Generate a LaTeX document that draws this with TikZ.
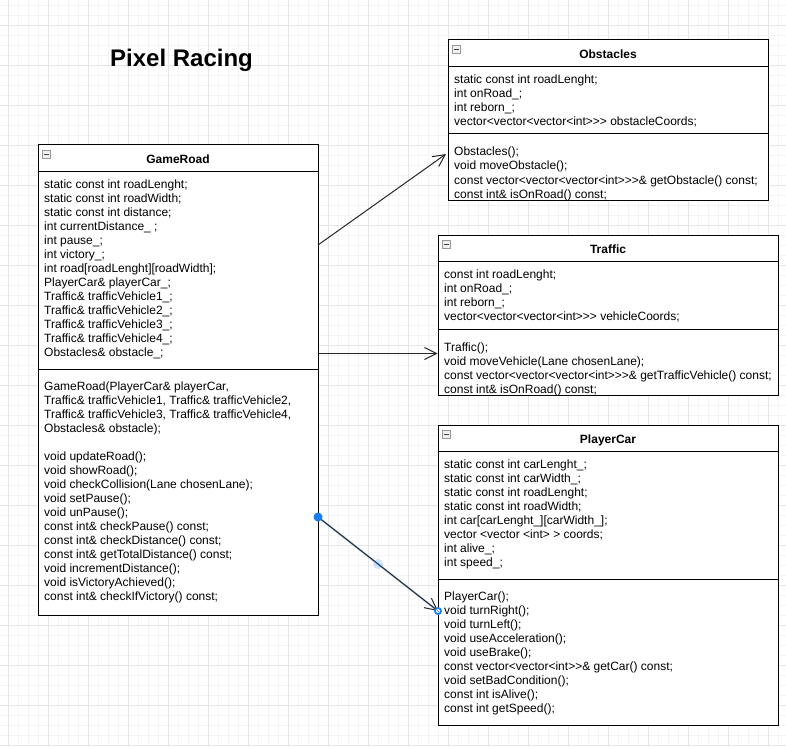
\documentclass[tikz,border=0pt]{standalone}
\usepackage{fontspec}
\setmainfont{Liberation Sans}[Ligatures=TeXOff]
\usetikzlibrary{arrows.meta,calc}
\definecolor{gridmajor}{HTML}{E6E6E6}
\definecolor{gridminor}{HTML}{F4F4F4}
\definecolor{selblue}{RGB}{25,125,240}
\tikzset{
  box/.style={draw=black, line width=1pt, fill=white, inner sep=0pt},
  txt/.style={anchor=base west, inner sep=0pt, font=\fontsize{12}{14}\selectfont},
  hdr/.style={anchor=base, inner sep=0pt, font=\fontsize{12}{14}\selectfont\bfseries},
  sepline/.style={draw=black, line width=1pt},
  minusicon/.style={draw=gray!80, fill=gray!12, line width=0.6pt, minimum size=8pt, inner sep=0pt},
  conn/.style={draw=black!85, line width=1pt, -{Straight Barb[length=12pt,width=12pt,line width=1pt]}},
}
\begin{document}
\begin{tikzpicture}[x=1pt,y=-1pt]
\useasboundingbox (0,0) rectangle (786,746);
\fill[white] (0,0) rectangle (786,746);
% grid
\foreach \gx in {8,18,...,778} \draw[gridminor, line width=0.6pt] (\gx,0) -- (\gx,746);
\foreach \gy in {5,15,...,745} \draw[gridminor, line width=0.6pt] (0,\gy) -- (786,\gy);
\foreach \gx in {8,48,...,768} \draw[gridmajor, line width=0.8pt] (\gx,0) -- (\gx,746);
\foreach \gy in {25,65,...,745} \draw[gridmajor, line width=0.8pt] (0,\gy) -- (786,\gy);

% title
\node[anchor=base, inner sep=0pt, font=\fontsize{24}{28}\selectfont\bfseries] (title) at (181.5,66.5) {Pixel Racing};

% ---------- GameRoad ----------
\node[box, minimum width=280pt, minimum height=470pt] (gr) at (178,380) {};
\draw[sepline] (38,171.5) -- (318,171.5);
\draw[sepline] (38,369) -- (318,369);
\node[minusicon] (gr-icon) at (46.5,154.5) {};
\draw[black!75, line width=0.8pt] (44.3,154.5) -- (48.7,154.5);
\node[hdr] (gr-title) at (178,163.6) {GameRoad};
\foreach \t [count=\i from 0] in {
  {static const int roadLenght;},
  {static const int roadWidth;},
  {static const int distance;},
  {int currentDistance\_ ;},
  {int pause\_;},
  {int victory\_;},
  {int road[roadLenght][roadWidth];},
  {PlayerCar\& playerCar\_;},
  {Traffic\& trafficVehicle1\_;},
  {Traffic\& trafficVehicle2\_;},
  {Traffic\& trafficVehicle3\_;},
  {Traffic\& trafficVehicle4\_;},
  {Obstacles\& obstacle\_;}}
  \node[txt] (gr-a\i) at (44,188.6+14*\i) {\t};
\foreach \t [count=\i from 0] in {
  {GameRoad(PlayerCar\& playerCar,},
  {Traffic\& trafficVehicle1, Traffic\& trafficVehicle2,},
  {Traffic\& trafficVehicle3, Traffic\& trafficVehicle4,},
  {Obstacles\& obstacle);}}
  \node[txt] (gr-c\i) at (44,390.3+14*\i) {\t};
\foreach \t [count=\i from 0] in {
  {void updateRoad();},
  {void showRoad();},
  {void checkCollision(Lane chosenLane);},
  {void setPause();},
  {void unPause();},
  {const int\& checkPause() const;},
  {const int\& checkDistance() const;},
  {const int\& getTotalDistance() const;},
  {void incrementDistance();},
  {void isVictoryAchieved();},
  {const int\& checkIfVictory() const;}}
  \node[txt] (gr-m\i) at (44,460.3+14*\i) {\t};

% ---------- Obstacles ----------
\node[box, minimum width=320pt, minimum height=160pt] (ob) at (608,120) {};
\draw[sepline] (448,66.5) -- (768,66.5);
\draw[sepline] (448,134) -- (768,134);
\node[minusicon] (ob-icon) at (456.5,49.5) {};
\draw[black!75, line width=0.8pt] (454.3,49.5) -- (458.7,49.5);
\node[hdr] (ob-title) at (608,58.6) {Obstacles};
\foreach \t [count=\i from 0] in {
  {static const int roadLenght;},
  {int onRoad\_;},
  {int reborn\_;},
  {vector<vector<vector<int>>> obstacleCoords;}}
  \node[txt] (ob-a\i) at (454,83.6+14*\i) {\t};
\foreach \t [count=\i from 0] in {
  {Obstacles();},
  {void moveObstacle();},
  {const vector<vector<vector<int>>>\& getObstacle() const;},
  {const int\& isOnRoad() const;}}
  \node[txt] (ob-m\i) at (454,156+14*\i) {\t};

% ---------- Traffic ----------
\node[box, minimum width=340pt, minimum height=160pt] (tr) at (608,315) {};
\draw[sepline] (438,261.5) -- (778,261.5);
\draw[sepline] (438,329) -- (778,329);
\node[minusicon] (tr-icon) at (446.5,244.5) {};
\draw[black!75, line width=0.8pt] (444.3,244.5) -- (448.7,244.5);
\node[hdr] (tr-title) at (608,253.6) {Traffic};
\foreach \t [count=\i from 0] in {
  {const int roadLenght;},
  {int onRoad\_;},
  {int reborn\_;},
  {vector<vector<vector<int>>> vehicleCoords;}}
  \node[txt] (tr-a\i) at (444,278.6+14*\i) {\t};
\foreach \t [count=\i from 0] in {
  {Traffic();},
  {void moveVehicle(Lane chosenLane);},
  {const vector<vector<vector<int>>>\& getTrafficVehicle() const;},
  {const int\& isOnRoad() const;}}
  \node[txt] (tr-m\i) at (444,351+14*\i) {\t};

% ---------- PlayerCar ----------
\node[box, minimum width=340pt, minimum height=300pt] (pc) at (608,575) {};
\draw[sepline] (438,451.5) -- (778,451.5);
\draw[sepline] (438,579) -- (778,579);
\node[minusicon] (pc-icon) at (446.5,434.5) {};
\draw[black!75, line width=0.8pt] (444.3,434.5) -- (448.7,434.5);
\node[hdr] (pc-title) at (608,443.6) {PlayerCar};
\foreach \t [count=\i from 0] in {
  {static const int carLenght\_;},
  {static const int carWidth\_;},
  {static const int roadLenght;},
  {static const int roadWidth;},
  {int car[carLenght\_][carWidth\_];},
  {vector <vector <int> > coords;},
  {int alive\_;},
  {int speed\_;}}
  \node[txt] (pc-a\i) at (444,468.6+14*\i) {\t};
\foreach \t [count=\i from 0] in {
  {PlayerCar();},
  {void turnRight();},
  {void turnLeft();},
  {void useAcceleration();},
  {void useBrake();},
  {const vector<vector<int>>\& getCar() const;},
  {void setBadCondition();},
  {const int isAlive();},
  {const int getSpeed();}}
  \node[txt] (pc-m\i) at (444,600.3+14*\i) {\t};

% ---------- connectors ----------
\coordinate (gr-o1) at (318,245);
\coordinate (ob-in) at (446,154);
\coordinate (gr-o2) at (318,353.5);
\coordinate (tr-in) at (437.5,353.5);
\coordinate (gr-o3) at (318,517);
\coordinate (pc-in) at (438,611);
\coordinate (c3-mid) at (378,564);

\draw[conn] (gr-o1) -- (ob-in);
\draw[conn] (gr-o2) -- (tr-in);
\draw[selblue, opacity=0.35, line width=2pt, shorten >=4pt] (gr-o3) -- (pc-in);
\draw[conn] (gr-o3) -- (pc-in);
\fill[selblue] (gr-o3) circle (4.5pt);
\fill[selblue, opacity=0.2] (c3-mid) circle (5pt);
\fill[selblue] (pc-in) circle (4pt);
\fill[white] (pc-in) circle (2pt);
\draw[selblue, line width=0.6pt] ($(pc-in)+(-1.2,-1.2)$) -- ($(pc-in)+(1.2,1.2)$);
\end{tikzpicture}
\end{document}
